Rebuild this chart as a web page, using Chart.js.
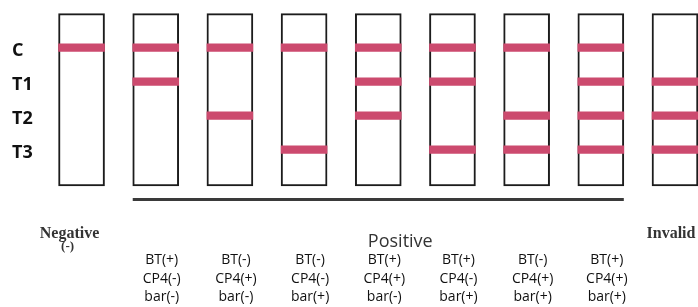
<!DOCTYPE html>
<html>
<head>
<meta charset="utf-8">
<script src="https://cdn.jsdelivr.net/npm/chart.js@4/dist/chart.umd.min.js"></script>
<style>
  html, body { margin: 0; padding: 0; background: #fff; }
  #wrap { width: 698px; height: 307px; position: relative; }
</style>
</head>
<body>
<div id="wrap"><canvas id="strips"></canvas></div>
<script>
// ===== DATA =====
// one test strip per x position (0..8)
const stripIndex = [0, 1, 2, 3, 4, 5, 6, 7, 8];

// band rows and their level on the strip
const rowLabels = ['C', 'T1', 'T2', 'T3'];
const rowLevels = [4, 3, 2, 1];

// band present (1) or absent (0) on each strip
const bandC  = [1, 1, 1, 1, 1, 1, 1, 1, 0];
const bandT1 = [0, 1, 0, 0, 1, 1, 0, 1, 1];
const bandT2 = [0, 0, 1, 0, 1, 0, 1, 1, 1];
const bandT3 = [0, 0, 0, 1, 0, 1, 1, 1, 1];

// strip body, in band-level units
const stripRange = [-0.07, 5];

// results below the strips
const negativeLabel = ['Negative', '(-)'];
const positiveLabel = 'Positive';
const invalidLabel = 'Invalid';
const positiveStrips = [1, 2, 3, 4, 5, 6, 7];
const comboBT  = ['+', '-', '-', '+', '+', '-', '+'];
const comboCP4 = ['-', '+', '-', '+', '-', '+', '+'];
const comboBar = ['-', '-', '+', '-', '+', '+', '+'];

// ===== STYLE =====
const bandColor = '#cc4a6e';
const stripEdge = '#1c1c1c';
const bracketLevel = -0.47;
const stripHalf = 0.31; // half strip width in x units
const bandHalf = 0.11;

Chart.defaults.font.family = "'Open Sans', sans-serif";

const bandRows = [bandC, bandT1, bandT2, bandT3];

const bandDatasets = bandRows.map((row, r) => ({
    type: 'bar',
    label: rowLabels[r],
    data: stripIndex.filter(i => row[i]).map(i => ({ x: i, y: [rowLevels[r] - bandHalf, rowLevels[r] + bandHalf] })),
    backgroundColor: bandColor,
    borderWidth: 0,
    barThickness: 46,
    grouped: false,
    order: 0
}));

const stripDataset = {
    type: 'bar',
    label: 'strip',
    data: stripIndex.map(i => ({ x: i, y: stripRange })),
    backgroundColor: '#ffffff',
    borderColor: stripEdge,
    borderWidth: 2,
    borderSkipped: false,
    barThickness: 46,
    grouped: false,
    order: 2
};

const first = positiveStrips[0];
const last = positiveStrips[positiveStrips.length - 1];
const bracketDataset = {
    type: 'line',
    label: 'positive',
    data: [{ x: first - stripHalf, y: bracketLevel }, { x: last + stripHalf, y: bracketLevel }],
    borderColor: '#3a3a3a',
    borderWidth: 3,
    pointRadius: 0,
    order: 1
};

// text under the strips, placed through the x scale
const resultText = {
    id: 'resultText',
    afterDraw(chart) {
        const { ctx, chartArea, scales: { x } } = chart;
        const base = chartArea.bottom;
        ctx.save();
        ctx.textAlign = 'center';
        ctx.textBaseline = 'alphabetic';

        ctx.fillStyle = '#333';
        ctx.font = "bold 16px 'Liberation Serif', serif";
        const nx = x.getPixelForValue(0) - 12;
        ctx.fillText(negativeLabel[0], nx, base + 34);
        ctx.fillText(invalidLabel, x.getPixelForValue(8) - 4, base + 34);
        ctx.font = "bold 13px 'Liberation Serif', serif";
        ctx.fillText(negativeLabel[1], nx - 2, base + 46);

        ctx.fillStyle = '#333';
        ctx.font = "18px 'Open Sans', sans-serif";
        ctx.fillText(positiveLabel, x.getPixelForValue(4) + 22, base + 43);

        ctx.fillStyle = '#111';
        ctx.font = "14px 'Open Sans', sans-serif";
        positiveStrips.forEach((s, k) => {
            const px = x.getPixelForValue(s) + 6;
            ctx.fillText('BT(' + comboBT[k] + ')', px, base + 60);
            ctx.fillText('CP4(' + comboCP4[k] + ')', px, base + 79);
            ctx.fillText('bar(' + comboBar[k] + ')', px, base + 97);
        });
        ctx.restore();
    }
};

new Chart(document.getElementById('strips'), {
    type: 'bar',
    data: { datasets: [...bandDatasets, bracketDataset, stripDataset] },
    options: {
        responsive: true,
        maintainAspectRatio: false,
        animation: false,
        layout: { padding: { left: 12, right: 0, top: 0, bottom: 103 } },
        plugins: { legend: { display: false }, tooltip: { enabled: false } },
        scales: {
            x: {
                type: 'linear',
                min: -0.56,
                max: 8.31,
                offset: false,
                display: false
            },
            y: {
                min: -0.6,
                max: 5.4,
                grid: { display: false },
                border: { display: false },
                afterBuildTicks: (scale) => {
                    scale.ticks = rowLevels.map(v => ({ value: v }));
                },
                afterFit: (scale) => {
                    scale.width = 28;
                    scale.paddingTop = 0;
                    scale.paddingBottom = 0;
                },
                ticks: {
                    crossAlign: 'far',
                    labelOffset: 3,
                    color: '#111',
                    font: { size: 18, weight: 'bold' },
                    callback: (value) => rowLabels[rowLevels.indexOf(value)]
                }
            }
        }
    },
    plugins: [resultText]
});
</script>
</body>
</html>
